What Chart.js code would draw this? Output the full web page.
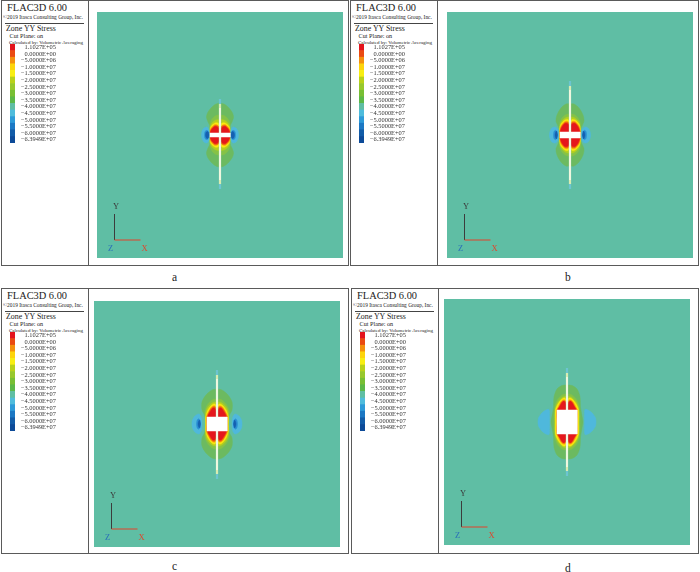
<!DOCTYPE html>
<html>
<head>
<meta charset="utf-8">
<script src="https://cdn.jsdelivr.net/npm/chart.js@4"></script>
<style>
  html, body { margin: 0; padding: 0; background: #fff; }
  body { position: relative; width: 700px; height: 572px; overflow: hidden; font-family: "Liberation Serif", serif; color: #222; }
  .frame { position: absolute; border: 1px solid #5a5a5a; box-sizing: border-box; }
  .divider { position: absolute; width: 1px; background: #5a5a5a; }
  .rule { position: absolute; height: 1px; background: #444; }
  .t { position: absolute; white-space: nowrap; line-height: 1; }
  canvas { position: absolute; }
</style>
</head>
<body>
<script>
// colour bar
const legendLabels = ['1.1027E+05', '0.0000E+00', '\u22125.0000E+06', '\u22121.0000E+07', '\u22121.5000E+07', '\u22122.0000E+07', '\u22122.5000E+07', '\u22123.0000E+07', '\u22123.5000E+07', '\u22124.0000E+07', '\u22124.5000E+07', '\u22125.0000E+07', '\u22125.5000E+07', '\u22126.0000E+07', '\u22126.3949E+07'];
const legendColors = ['#e3141c', '#ea4a12', '#f4900e', '#fdd40c', '#f8ee12', '#b9d11a', '#98c82c', '#78bf34', '#5cb848', '#5fbea4', '#4fbcdc', '#2d9ad8', '#1c78c4', '#125ca8', '#0c4a98'];
const legendValues = [1, 1, 1, 1, 1, 1, 1, 1, 1, 1, 1, 1, 1, 1, 1];

// contour levels, outermost first, each one quadrant of the outline (x, y in px-sized model units)
const levelColors = ['#6cba60', '#86c246', '#b5cf1f', '#fde80f', '#f7a30c', '#ef5a10', '#e5171c'];
const contoursA = [
  [[0, 32], [4, 31], [8, 28], [12, 23], [13.5, 18], [12, 13], [10, 9], [9.8, 5], [10, 0]],
  [[0, 20], [4, 19.5], [8, 16], [10, 11], [10, 7], [10, 0]],
  [[0, 15.5], [4, 15], [8, 12], [10, 7], [10, 0]],
  [[0, 10], [2, 12], [5, 12], [9, 8.5], [10, 4], [10, 0]],
  [[0, 7], [2, 9.5], [5, 10.5], [9, 7], [10, 3], [10, 0]],
  [[0, 6], [2, 9], [5, 9.5], [8.5, 6.5], [10, 3], [10, 0]],
  [[0, 4], [2, 7.5], [5, 8.5], [8, 6], [9.5, 3], [9.8, 0]]
];
const contoursB = [
  [[0, 31], [4, 31], [9, 27], [13, 20], [14, 14], [12, 9], [10.5, 5], [10.5, 0]],
  [[0, 21], [4, 20.5], [8, 17], [10.3, 12], [10.3, 7], [10.3, 0]],
  [[0, 18], [4, 17.5], [8, 14], [10.2, 9], [10.2, 0]],
  [[0, 13], [2, 15.5], [5, 15], [9, 11], [10.2, 6], [10.2, 0]],
  [[0, 10], [2, 13.5], [5, 13.5], [9, 9], [10, 5], [10, 0]],
  [[0, 9], [2, 12.5], [5, 12.5], [8.5, 8.5], [10, 4], [10, 0]],
  [[0, 7], [2, 11], [5, 11.5], [8, 8], [9.5, 4], [9.8, 0]]
];
const contoursC = [
  [[0, 35], [5, 34], [11, 29], [15, 22], [15, 14], [12.5, 9], [11.5, 4], [11.5, 0]],
  [[0, 25], [4, 24.5], [9, 20], [12, 13], [11.5, 6], [11.5, 0]],
  [[0, 22], [4, 21.5], [9, 17], [11.5, 10], [11.5, 0]],
  [[0, 17], [2, 20], [5, 19], [9, 14], [11.2, 7], [11.2, 0]],
  [[0, 13], [2, 18], [5, 17.5], [8, 13], [10.5, 8], [10.5, 0]],
  [[0, 12], [2, 17], [5, 16.5], [8, 12], [10, 7], [10, 0]],
  [[0, 10], [2, 15.5], [4, 16], [7, 12], [9, 8], [9, 0]]
];
const contoursD = [
  [[0, 37], [5, 36.5], [10, 33], [13, 25], [13.5, 15], [15, 6], [16, 0]],
  [[0, 28], [4, 27.5], [9, 23], [12, 16], [13, 6], [13, 0]],
  [[0, 25.5], [4, 25], [9, 20], [11.5, 14], [12, 6], [12, 0]],
  [[0, 20], [2, 24], [5, 23], [9, 18], [11.5, 12], [11.5, 0]],
  [[0, 17], [2, 22], [5, 21.5], [8.5, 16], [10, 12], [10, 0]],
  [[0, 16], [2, 21], [5, 20.5], [8, 15], [10, 12], [10, 0]],
  [[0, 14], [2, 20], [4, 20.5], [7, 16], [9, 12], [9, 0]]
];

// side lobes of compressive stress, upper half of the right one
const blueColors = ['#4fb8dc', '#2b8fd3', '#1560b0'];
const lobesA = [
  [[10.5, 0], [11, 5], [13, 8], [16, 7], [18, 3.5], [18.5, 0]],
  [[11, 0], [11.5, 3], [13, 4.7], [15, 3.5], [15.5, 0]],
  [[11, 0], [11.5, 2.5], [12.5, 3.5], [14, 2.5], [14.5, 0]]
];
const lobesB = [
  [[11.5, 0], [12, 5], [14.5, 8], [18, 7], [20, 3.5], [20.5, 0]],
  [[12.5, 0], [13, 3], [14.5, 4.7], [16, 3.5], [16.5, 0]],
  [[12.5, 0], [13, 2.5], [13.5, 4], [14.5, 2.5], [15, 0]]
];
const lobesC = [
  [[15, 0], [15.5, 6], [18, 10], [22, 8], [24.5, 4], [25, 0]],
  [[16.5, 0], [17, 3.5], [18.5, 5.3], [20, 3.5], [20.5, 0]],
  [[16.5, 0], [17, 2.5], [17.5, 4], [18.5, 2.5], [19, 0]]
];
const lobesD = [
  [[17.5, 0], [17.5, 6], [18, 12.5], [22, 11.5], [26, 8], [28.5, 4], [29, 0]]
];

// opening half sizes and fracture extents, model units
const openings = { a: [10, 2], b: [10, 3], c: [10, 7], d: [10, 12] };
const fractures = { a: [35, -53], b: [53, -53], c: [53, -54], d: [53, -53] };

// where things go on the page
const panels = [
  { key: 'a', contours: contoursA, lobes: lobesA, frame: [1, 0, 348, 266], div: 88, plot: [97, 12], cap: [172, 272, 'a'] },
  { key: 'b', contours: contoursB, lobes: lobesB, frame: [350, 0, 349, 266], div: 437, plot: [447, 12], cap: [565, 272, 'b'] },
  { key: 'c', contours: contoursC, lobes: lobesC, frame: [1, 288, 348, 266], div: 88, plot: [94, 301], cap: [172, 561, 'c'] },
  { key: 'd', contours: contoursD, lobes: lobesD, frame: [351, 288, 348, 266], div: 438, plot: [444, 299], cap: [565, 563, 'd'] }
];
const plotSize = 246;
const half = plotSize / 2;

function addDiv(cls, left, top, w, h) {
  const d = document.createElement('div');
  d.className = cls;
  d.style.left = left + 'px';
  d.style.top = top + 'px';
  if (w) d.style.width = w + 'px';
  if (h) d.style.height = h + 'px';
  document.body.appendChild(d);
  return d;
}

function addText(txt, left, top, size, color) {
  const d = addDiv('t', left, top);
  d.textContent = txt;
  d.style.fontSize = size + 'px';
  if (color) d.style.color = color;
}

function addCanvas(left, top, w, h) {
  const c = document.createElement('canvas');
  c.width = w;
  c.height = h;
  c.style.left = left + 'px';
  c.style.top = top + 'px';
  c.style.width = w + 'px';
  c.style.height = h + 'px';
  document.body.appendChild(c);
  return c;
}

// quadrant outline -> closed outline on all four sides
function closedShape(q) {
  const right = q.concat(q.slice(0, -1).reverse().map(p => [p[0], -p[1]]));
  const left = right.slice(1, -1).reverse().map(p => [-p[0], p[1]]);
  return right.concat(left, [right[0]]).map(p => ({ x: p[0], y: p[1] }));
}

// upper half of the right lobe -> one closed lobe
function closedLobe(q, side) {
  const all = q.concat(q.slice(1, -1).reverse().map(p => [p[0], -p[1]]), [q[0]]);
  return all.map(p => ({ x: side * p[0], y: p[1] }));
}

function shapeSet(data, color) {
  return { data: data, showLine: true, fill: 'shape', backgroundColor: color, borderColor: color, borderWidth: 0.5, tension: 0.3, pointRadius: 0 };
}

function lineSet(data, color, width) {
  return { data: data, showLine: true, fill: false, borderColor: color, borderWidth: width, pointRadius: 0 };
}

function drawPanel(p) {
  addDiv('frame', p.frame[0], p.frame[1], p.frame[2], p.frame[3]);
  addDiv('divider', p.div, p.frame[1], 1, p.frame[3]);
  const ox = p.frame[0];
  const oy = p.frame[1];

  addText('FLAC3D 6.00', ox + 6, oy + 3, 10.4);
  addText('\u00a92019 Itasca Consulting Group, Inc.', ox + 2, oy + 14.5, 5.4);
  addDiv('rule', ox + 4, oy + 23, 79, 1);
  addText('Zone YY Stress', ox + 5, oy + 25, 7.9);
  addText('Cut Plane: on', ox + 8.5, oy + 33, 6.2);
  addText('Calculated by: Volumetric Averaging', ox + 8, oy + 40, 5);
  addText(p.cap[2], p.cap[0], p.cap[1], 11.5);

  // colour bar with its labels as the tick labels of the category axis
  new Chart(addCanvas(ox + 9, oy + 44, 46, 99), {
    type: 'bar',
    data: {
      labels: legendLabels,
      datasets: [{ data: legendValues, backgroundColor: legendColors, barPercentage: 1, categoryPercentage: 1 }]
    },
    options: {
      indexAxis: 'y',
      responsive: false,
      animation: false,
      plugins: { legend: { display: false }, tooltip: { enabled: false } },
      layout: { padding: 0 },
      scales: {
        x: { display: false, min: 0, max: 1 },
        y: {
          position: 'right',
          grid: { display: false, drawTicks: false },
          border: { display: false },
          afterFit: s => { s.width = 41; s.paddingTop = 0; s.paddingBottom = 0; },
          ticks: { autoSkip: false, padding: 3, crossAlign: 'far', color: '#333', font: { family: 'Liberation Serif', size: 6.4 } }
        }
      }
    }
  });

  const datasets = [];
  p.contours.forEach((q, i) => datasets.push(shapeSet(closedShape(q), levelColors[i])));
  p.lobes.forEach((q, i) => {
    datasets.push(shapeSet(closedLobe(q, 1), blueColors[i]));
    datasets.push(shapeSet(closedLobe(q, -1), blueColors[i]));
  });

  // fracture, then the opening on top of it
  const op = openings[p.key];
  const fr = fractures[p.key];
  datasets.push(lineSet([{ x: 0, y: fr[0] + 1 }, { x: 0, y: fr[1] - 1 }], '#6cc4d0', 2.2));
  datasets.push(lineSet([{ x: 0, y: fr[0] - 4 }, { x: 0, y: fr[1] + 4 }], '#d8ecb0', 2.2));
  datasets.push(lineSet([{ x: 0, y: fr[0] - 8 }, { x: 0, y: fr[1] + 8 }], '#ffffff', 1.2));
  datasets.push(shapeSet([{ x: -op[0], y: op[1] }, { x: op[0], y: op[1] }, { x: op[0], y: -op[1] }, { x: -op[0], y: -op[1] }, { x: -op[0], y: op[1] }], '#ffffff'));
  datasets[datasets.length - 1].tension = 0;

  // axis triad in the lower left corner
  const tx = -half + 17.5;
  const ty = -half + 18;
  datasets.push(lineSet([{ x: tx, y: ty }, { x: tx, y: ty + 26 }], '#3c3c3c', 1));
  datasets.push(lineSet([{ x: tx, y: ty }, { x: tx + 26, y: ty }], '#e2432a', 1));

  // later entries sit on top
  datasets.forEach((d, i) => { d.order = datasets.length - i; });

  const px = p.plot[0];
  const py = p.plot[1];
  const cv = addCanvas(px, py, plotSize, plotSize);
  cv.style.background = '#5fbea4';
  new Chart(cv, {
    type: 'scatter',
    data: { datasets: datasets },
    options: {
      responsive: false,
      animation: false,
      plugins: { legend: { display: false }, tooltip: { enabled: false } },
      layout: { padding: 0 },
      scales: {
        x: { display: false, min: -half, max: half },
        y: { display: false, min: -half, max: half }
      }
    }
  });

  addText('Y', px + 16, py + 190, 8.5, '#3c3c3c');
  addText('Z', px + 11, py + 232, 8.5, '#2a6fb8');
  addText('X', px + 44.5, py + 232, 8.5, '#e2432a');
}

panels.forEach(drawPanel);
</script>
</body>
</html>
